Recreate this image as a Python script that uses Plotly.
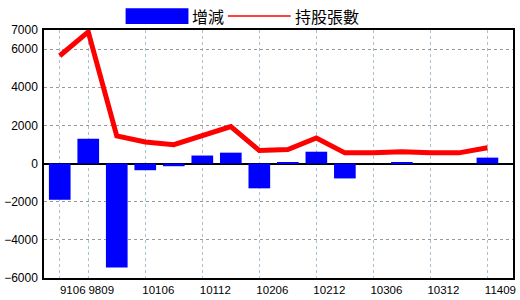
import plotly.graph_objects as go

periods = ["9106", "9809", "10103", "10106", "10109", "10112", "10203", "10206",
           "10209", "10212", "10303", "10306", "10309", "10312", "10403", "11409"]
change = [-1900, 1300, -5450, -350, -140, 420, 570, -1300,
          60, 620, -780, 0, 60, 0, 0, 310]
holders = [5650, 6900, 1450, 1130, 990, 1440, 1940, 680,
           730, 1340, 560, 560, 620, 560, 560, 830]
shown_ticks = ["9106", "9809", "10106", "10112", "10206", "10212", "10306", "10312", "11409"]
y_ticks = [7000, 6000, 4000, 2000, 0, -2000, -4000, -6000]
legend_names = ["增減", "持股張數"]

fig = go.Figure()
fig.add_trace(go.Bar(x=periods, y=change, marker=dict(color="#0000FF", line=dict(width=0)),
                     width=0.76, name=legend_names[0], showlegend=False))
fig.add_trace(go.Scatter(x=periods, y=holders, mode="lines", line=dict(color="#FF0000", width=5),
                         name=legend_names[1], showlegend=False))

fig.update_layout(
    width=520, height=300,
    margin=dict(l=39, r=4, t=30, b=20),
    plot_bgcolor="white", paper_bgcolor="white",
    font=dict(family="Liberation Sans, Arial", size=12, color="black"),
    xaxis=dict(type="category", categoryorder="array", categoryarray=periods,
               range=[-0.552, 15.897], tickmode="array", tickvals=shown_ticks, ticktext=shown_ticks,
               showgrid=True, gridcolor="#a8c0d0", griddash="dot", gridwidth=1,
               showline=True, linecolor="black", linewidth=1.5, mirror=True,
               ticks="", ticklabelshift=13, ticklabelstandoff=0, tickangle=0,
               tickfont=dict(size=11.5)),
    yaxis=dict(range=[-6000, 7000], tickmode="array", tickvals=y_ticks,
               showgrid=True, gridcolor="#999999", griddash="dot", gridwidth=1,
               zeroline=True, zerolinecolor="black", zerolinewidth=2,
               showline=True, linecolor="black", linewidth=1.5, mirror=True,
               ticks="", ticklabelstandoff=2, tickfont=dict(size=12)),
)

# manual legend
fig.add_shape(type="rect", xref="paper", yref="paper", x0=0.174, x1=0.308, y0=1.024, y1=1.088,
              fillcolor="#0000FF", line=dict(width=0))
fig.add_shape(type="line", xref="paper", yref="paper", x0=0.392, x1=0.526, y0=1.056, y1=1.056,
              line=dict(color="#FF0000", width=1.5))
fig.add_annotation(xref="paper", yref="paper", x=0.312, y=1.056, text=legend_names[0], showarrow=False,
                   xanchor="left", yanchor="middle", font=dict(family="Noto Sans CJK TC", size=16, color="black"))
fig.add_annotation(xref="paper", yref="paper", x=0.530, y=1.056, text=legend_names[1], showarrow=False,
                   xanchor="left", yanchor="middle", font=dict(family="Noto Sans CJK TC", size=16, color="black"))

fig.write_html("out.html")
